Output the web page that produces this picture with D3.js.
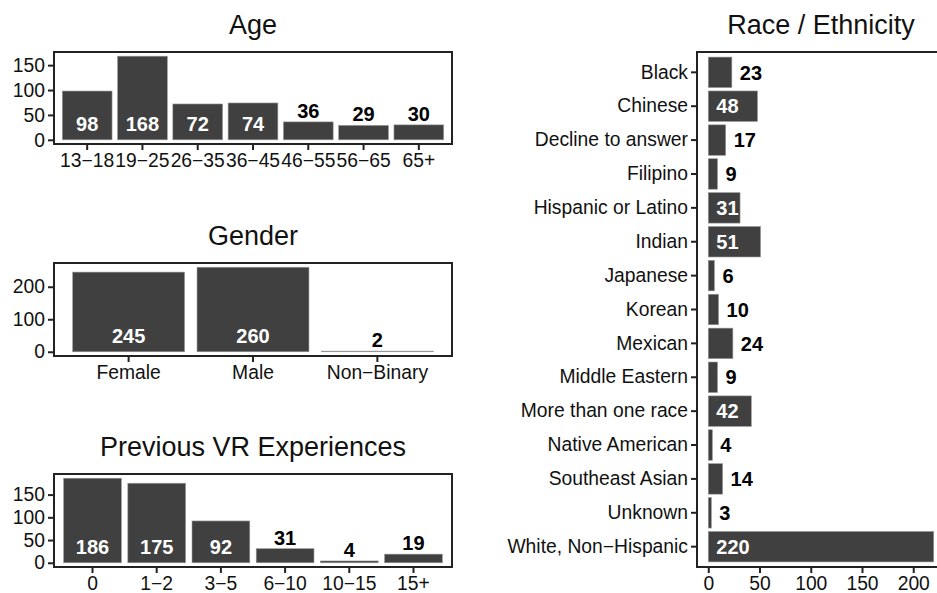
<!DOCTYPE html>
<html>
<head>
<meta charset="utf-8">
<script src="https://d3js.org/d3.v7.min.js"></script>
<style>
  body { margin: 0; background: #fff; }
  text { font-family: "Liberation Sans", Arial, sans-serif; }
</style>
</head>
<body>
<script>
// --- data ---
var ageCats = ["13\u221218", "19\u221225", "26\u221235", "36\u221245", "46\u221255", "56\u221265", "65+"];
var ageVals = [98, 168, 72, 74, 36, 29, 30];
var ageTicks = [0, 50, 100, 150];

var genderCats = ["Female", "Male", "Non\u2212Binary"];
var genderVals = [245, 260, 2];
var genderTicks = [0, 100, 200];

var vrCats = ["0", "1\u22122", "3\u22125", "6\u221210", "10\u221215", "15+"];
var vrVals = [186, 175, 92, 31, 4, 19];
var vrTicks = [0, 50, 100, 150];

var raceCats = ["Black", "Chinese", "Decline to answer", "Filipino", "Hispanic or Latino",
  "Indian", "Japanese", "Korean", "Mexican", "Middle Eastern", "More than one race",
  "Native American", "Southeast Asian", "Unknown", "White, Non\u2212Hispanic"];
var raceVals = [23, 48, 17, 9, 31, 51, 6, 10, 24, 9, 42, 4, 14, 3, 220];
var raceTicks = [0, 50, 100, 150, 200];

var W = 937, H = 593;
var barFill = "#404040", frameCol = "#222";
var tickFont = 19.3, labFont = 20, titleFont = 27;
var svg = d3.select("body").append("svg").attr("width", W).attr("height", H);

function styleAxis(a) {
  a.select(".domain").remove();
  a.selectAll("line").attr("stroke", frameCol).attr("stroke-width", 2);
  a.selectAll("text").attr("font-size", tickFont).attr("fill", "#111")
    .attr("font-family", "Liberation Sans, Arial, sans-serif");
}

// vertical bar panel (ggplot-ish expansions)
function vPanel(title, cats, vals, ticks, box, insideMin) {
  var g = svg.append("g");
  var x = d3.scaleBand().domain(cats).range([box.x0, box.x1]).paddingInner(0.1).paddingOuter(0.15);
  var m = d3.max(vals);
  var y = d3.scaleLinear().domain([-0.05 * m, 1.05 * m]).range([box.y1, box.y0]);

  g.selectAll("rect.bar").data(vals).enter().append("rect")
    .attr("x", function (d, i) { return x(cats[i]); })
    .attr("width", x.bandwidth())
    .attr("y", function (d) { return y(d); })
    .attr("height", function (d) { return y(0) - y(d); })
    .attr("fill", barFill).attr("stroke", "#999").attr("stroke-width", 0.6);

  g.selectAll("text.lab").data(vals).enter().append("text")
    .attr("x", function (d, i) { return x(cats[i]) + x.bandwidth() / 2; })
    .attr("y", function (d) { return d >= insideMin ? y(0) - 9 : y(d) - 4; })
    .attr("text-anchor", "middle")
    .attr("font-size", labFont).attr("font-weight", "bold")
    .attr("fill", function (d) { return d >= insideMin ? "#fff" : "#000"; })
    .text(function (d) { return d; });

  g.append("rect").attr("x", box.x0).attr("y", box.y0)
    .attr("width", box.x1 - box.x0).attr("height", box.y1 - box.y0)
    .attr("fill", "none").attr("stroke", frameCol).attr("stroke-width", 2);

  styleAxis(g.append("g").attr("transform", "translate(" + box.x0 + ",0)")
    .call(d3.axisLeft(y).tickValues(ticks).tickSize(6).tickPadding(3)));
  styleAxis(g.append("g").attr("transform", "translate(0," + box.y1 + ")")
    .call(d3.axisBottom(x).tickSize(6).tickPadding(3)));

  g.append("text").attr("x", (box.x0 + box.x1) / 2).attr("y", box.y0 - 18)
    .attr("text-anchor", "middle").attr("font-size", titleFont).attr("fill", "#111").text(title);
}

vPanel("Age", ageCats, ageVals, ageTicks, {x0: 54, x1: 452, y0: 52, y1: 144}, 50);
vPanel("Gender", genderCats, genderVals, genderTicks, {x0: 54, x1: 452, y0: 263, y1: 356}, 50);
vPanel("Previous VR Experiences", vrCats, vrVals, vrTicks, {x0: 54, x1: 452, y0: 474, y1: 567}, 50);

// horizontal race panel (extends past the right edge, as in the reference)
(function () {
  var box = {x0: 697, x1: 945, y0: 52, y1: 567};
  var g = svg.append("g");
  var y = d3.scaleBand().domain(raceCats).range([box.y0, box.y1]).paddingInner(0.1).paddingOuter(0.15);
  var m = d3.max(raceVals);
  var x = d3.scaleLinear().domain([-0.05 * m, 1.05 * m]).range([box.x0, box.x1]);
  var insideMin = 30;

  g.selectAll("rect.bar").data(raceVals).enter().append("rect")
    .attr("y", function (d, i) { return y(raceCats[i]); })
    .attr("height", y.bandwidth())
    .attr("x", x(0))
    .attr("width", function (d) { return x(d) - x(0); })
    .attr("fill", barFill).attr("stroke", "#999").attr("stroke-width", 0.6);

  g.selectAll("text.lab").data(raceVals).enter().append("text")
    .attr("y", function (d, i) { return y(raceCats[i]) + y.bandwidth() / 2; })
    .attr("x", function (d) { return d >= insideMin ? x(0) + 8 : x(d) + 8; })
    .attr("dy", "0.36em")
    .attr("font-size", labFont).attr("font-weight", "bold")
    .attr("fill", function (d) { return d >= insideMin ? "#fff" : "#000"; })
    .text(function (d) { return d; });

  g.append("rect").attr("x", box.x0).attr("y", box.y0)
    .attr("width", box.x1 - box.x0).attr("height", box.y1 - box.y0)
    .attr("fill", "none").attr("stroke", frameCol).attr("stroke-width", 2);

  styleAxis(g.append("g").attr("transform", "translate(" + box.x0 + ",0)")
    .call(d3.axisLeft(y).tickSize(6).tickPadding(3)));
  styleAxis(g.append("g").attr("transform", "translate(0," + box.y1 + ")")
    .call(d3.axisBottom(x).tickValues(raceTicks).tickSize(6).tickPadding(3)));

  g.append("text").attr("x", (box.x0 + box.x1) / 2).attr("y", box.y0 - 18)
    .attr("text-anchor", "middle").attr("font-size", titleFont).attr("fill", "#111").text("Race / Ethnicity");
})();
</script>
</body>
</html>
